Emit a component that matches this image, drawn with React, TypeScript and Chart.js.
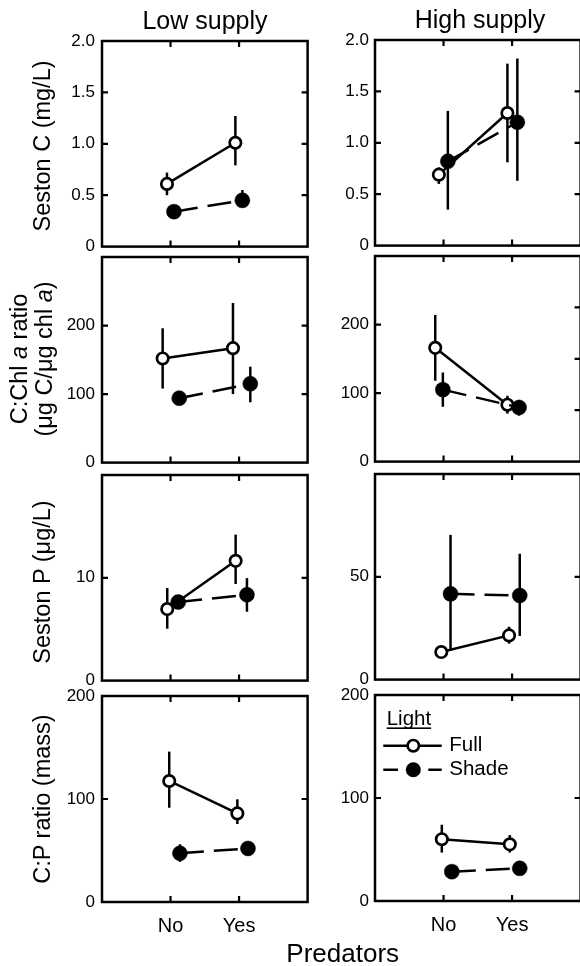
import React, { useEffect, useRef } from "react";
import { Chart, registerables } from "chart.js";

Chart.register(...registerables);

const FONT = '"Liberation Sans", Arial, Helvetica, sans-serif';

// ---------- categories / labels ----------
const predators = ["No", "Yes"];
const lightLevels = ["Full", "Shade"];
const legendTitle = "Light";
const supplyLevels = ["Low supply", "High supply"];
const xAxisTitle = "Predators";

// ---------- tick values / labels ----------
const sestonCTicks = [0, 0.5, 1, 1.5, 2];
const sestonCTickLabels = ["0", "0.5", "1.0", "1.5", "2.0"];
const cChlTicks = [0, 100, 200];
const cChlTickLabels = ["0", "100", "200"];
const cChlHighRightTicks = [75, 150, 225];
const sestonPLowTicks = [0, 10];
const sestonPLowTickLabels = ["0", "10"];
const sestonPHighTicks = [0, 50];
const sestonPHighTickLabels = ["0", "50"];
const cpTicks = [0, 100, 200];
const cpTickLabels = ["0", "100", "200"];

// ---------- Seston C (mg/L) ----------
const sestonCLowFull = [0.61, 1.01];
const sestonCLowFullErr = [[0.5, 0.72], [0.79, 1.27]];
const sestonCLowShade = [0.34, 0.45];
const sestonCLowShadeErr = [[0.3, 0.38], [0.38, 0.55]];
const sestonCHighFull = [0.69, 1.29];
const sestonCHighFullErr = [[0.6, 0.76], [0.81, 1.77]];
const sestonCHighShade = [0.82, 1.2];
const sestonCHighShadeErr = [[0.35, 1.31], [0.63, 1.82]];

// ---------- C:Chl a ratio ----------
const cChlLowFull = [152, 167];
const cChlLowFullErr = [[108, 196], [100, 233]];
const cChlLowShade = [94, 115];
const cChlLowShadeErr = [[88, 100], [88, 140]];
const cChlHighFull = [166, 83];
const cChlHighFullErr = [[118, 214], [70, 96]];
const cChlHighShade = [105, 79];
const cChlHighShadeErr = [[80, 130], [67, 90]];

// ---------- Seston P (ug/L) ----------
const sestonPLowFull = [6.96, 11.65];
const sestonPLowFullErr = [[5.05, 9.0], [9.4, 14.2]];
const sestonPLowShade = [7.64, 8.35];
const sestonPLowShadeErr = [[7.0, 8.3], [6.7, 9.97]];
const sestonPHighFull = [13.4, 21.5];
const sestonPHighFullErr = [[12, 15], [17.5, 25.7]];
const sestonPHighShade = [41.7, 40.9];
const sestonPHighShadeErr = [[14.2, 70.4], [21.2, 61.2]];

// ---------- C:P ratio (mass) ----------
const cpLowFull = [117.5, 86];
const cpLowFullErr = [[91.5, 146], [75.7, 99.7]];
const cpLowShade = [47.3, 52];
const cpLowShadeErr = [[39, 56], [48, 56]];
const cpHighFull = [60, 55];
const cpHighFullErr = [[47, 74], [47, 64]];
const cpHighShade = [28.5, 31.7];
const cpHighShadeErr = [[25, 32], [28, 35]];

// ---------- layout ----------
const LW = 52;
const PT = 10;
const PR = 8;
const PB = 8;
const XH = 46;
const PANEL_W = 206;
const PANEL_H = 206;
const colLeft = [102, 375];
const rowTop = [
  [41, 257, 475, 696],
  [40, 256, 474, 695],
];

type PanelCfg = {
  col: number;
  row: number;
  yMax: number;
  yTicks: number[];
  yLabels: string[];
  rightTicks?: number[];
  full: number[];
  fullErr: number[][];
  shade: number[];
  shadeErr: number[][];
  fullDodge: number[];
  shadeDodge: number[];
  legend?: boolean;
};

const panels: PanelCfg[] = [
  { col: 0, row: 0, yMax: 2, yTicks: sestonCTicks, yLabels: sestonCTickLabels,
    full: sestonCLowFull, fullErr: sestonCLowFullErr, shade: sestonCLowShade, shadeErr: sestonCLowShadeErr,
    fullDodge: [-0.052, -0.054], shadeDodge: [0.05, 0.048] },
  { col: 1, row: 0, yMax: 2, yTicks: sestonCTicks, yLabels: sestonCTickLabels,
    full: sestonCHighFull, fullErr: sestonCHighFullErr, shade: sestonCHighShade, shadeErr: sestonCHighShadeErr,
    fullDodge: [-0.068, -0.068], shadeDodge: [0.063, 0.077] },
  { col: 0, row: 1, yMax: 300, yTicks: cChlTicks, yLabels: cChlTickLabels,
    full: cChlLowFull, fullErr: cChlLowFullErr, shade: cChlLowShade, shadeErr: cChlLowShadeErr,
    fullDodge: [-0.115, -0.089], shadeDodge: [0.127, 0.164] },
  { col: 1, row: 1, yMax: 300, yTicks: cChlTicks, yLabels: cChlTickLabels, rightTicks: cChlHighRightTicks,
    full: cChlHighFull, fullErr: cChlHighFullErr, shade: cChlHighShade, shadeErr: cChlHighShadeErr,
    fullDodge: [-0.121, -0.068], shadeDodge: [-0.01, 0.102] },
  { col: 0, row: 2, yMax: 20, yTicks: sestonPLowTicks, yLabels: sestonPLowTickLabels,
    full: sestonPLowFull, fullErr: sestonPLowFullErr, shade: sestonPLowShade, shadeErr: sestonPLowShadeErr,
    fullDodge: [-0.048, -0.05], shadeDodge: [0.112, 0.115] },
  { col: 1, row: 2, yMax: 100, yTicks: sestonPHighTicks, yLabels: sestonPHighTickLabels,
    full: sestonPHighFull, fullErr: sestonPHighFullErr, shade: sestonPHighShade, shadeErr: sestonPHighShadeErr,
    fullDodge: [-0.033, -0.044], shadeDodge: [0.102, 0.112] },
  { col: 0, row: 3, yMax: 200, yTicks: cpTicks, yLabels: cpTickLabels,
    full: cpLowFull, fullErr: cpLowFullErr, shade: cpLowShade, shadeErr: cpLowShadeErr,
    fullDodge: [-0.019, -0.025], shadeDodge: [0.137, 0.13] },
  { col: 1, row: 3, yMax: 200, yTicks: cpTicks, yLabels: cpTickLabels,
    full: cpHighFull, fullErr: cpHighFullErr, shade: cpHighShade, shadeErr: cpHighShadeErr,
    fullDodge: [-0.025, -0.033], shadeDodge: [0.121, 0.112], legend: true },
];

const LINE_W = 2.5;
const DASH = [24, 10];
const OPEN_R = 5.7;
const OPEN_BW = 2.7;
const FILLED_R = 7.5;

function Panel({ cfg }: { cfg: PanelCfg }) {
  const ref = useRef<HTMLCanvasElement>(null);
  const showX = cfg.row === 3;
  const left = colLeft[cfg.col] - LW;
  const top = rowTop[cfg.col][cfg.row] - PT;
  const w = LW + PANEL_W + PR;
  const h = PT + PANEL_H + (showX ? XH : PB);

  useEffect(() => {
    const canvas = ref.current;
    if (!canvas) return;

    const decor = {
      id: "decor",
      beforeDatasetsDraw(chart: any) {
        const { ctx, scales } = chart;
        const x = scales.x;
        const y = scales.y;
        ctx.save();
        ctx.strokeStyle = "#000";
        ctx.lineWidth = 2.5;
        ctx.lineCap = "butt";
        const groups = [
          { vals: cfg.fullErr, dodge: cfg.fullDodge },
          { vals: cfg.shadeErr, dodge: cfg.shadeDodge },
        ];
        groups.forEach((g) => {
          g.vals.forEach(([lo, hi], i) => {
            const px = x.getPixelForValue(i + 1 + g.dodge[i]);
            ctx.beginPath();
            ctx.moveTo(px, y.getPixelForValue(lo));
            ctx.lineTo(px, y.getPixelForValue(hi));
            ctx.stroke();
          });
        });
        ctx.restore();
      },
      afterDraw(chart: any) {
        const { ctx, chartArea: a, scales } = chart;
        const x = scales.x;
        const y = scales.y;
        ctx.save();
        ctx.strokeStyle = "#000";
        ctx.lineWidth = 2.5;
        ctx.strokeRect(a.left, a.top, a.right - a.left, a.bottom - a.top);
        const TL = 6;
        ctx.lineWidth = 2.2;
        ctx.beginPath();
        cfg.yTicks.forEach((v) => {
          if (v <= 0 || v >= cfg.yMax) return;
          const py = y.getPixelForValue(v);
          ctx.moveTo(a.left, py);
          ctx.lineTo(a.left + TL, py);
        });
        (cfg.rightTicks || cfg.yTicks).forEach((v) => {
          if (v <= 0 || v >= cfg.yMax) return;
          const py = y.getPixelForValue(v);
          ctx.moveTo(a.right, py);
          ctx.lineTo(a.right - TL, py);
        });
        predators.forEach((_, i) => {
          const px = x.getPixelForValue(i + 1);
          ctx.moveTo(px, a.top);
          ctx.lineTo(px, a.top + TL);
          ctx.moveTo(px, a.bottom);
          ctx.lineTo(px, a.bottom - TL);
        });
        ctx.stroke();

        if (cfg.legend) {
          const L = a.left;
          const T = a.top;
          ctx.fillStyle = "#000";
          ctx.font = `20.5px ${FONT}`;
          ctx.textBaseline = "middle";
          ctx.textAlign = "left";
          ctx.fillText(legendTitle, L + 11.7, T + 24.3);
          const tw = ctx.measureText(legendTitle).width;
          ctx.fillRect(L + 11.7, T + 32.4, tw, 1.6);
          // Full
          const yF = T + 50.7;
          ctx.lineWidth = LINE_W;
          ctx.setLineDash([]);
          ctx.beginPath();
          ctx.moveTo(L + 8.3, yF);
          ctx.lineTo(L + 66.7, yF);
          ctx.stroke();
          ctx.beginPath();
          ctx.arc(L + 38.3, yF, OPEN_R, 0, Math.PI * 2);
          ctx.fillStyle = "#fff";
          ctx.fill();
          ctx.lineWidth = OPEN_BW;
          ctx.stroke();
          ctx.fillStyle = "#000";
          ctx.fillText(lightLevels[0], L + 74.3, yF);
          // Shade
          const yS = T + 74.7;
          ctx.lineWidth = LINE_W;
          ctx.beginPath();
          ctx.moveTo(L + 8.3, yS);
          ctx.lineTo(L + 23, yS);
          ctx.moveTo(L + 53.3, yS);
          ctx.lineTo(L + 66.7, yS);
          ctx.stroke();
          ctx.beginPath();
          ctx.arc(L + 38.3, yS, FILLED_R, 0, Math.PI * 2);
          ctx.fill();
          ctx.fillText(lightLevels[1], L + 74.3, yS);
        }
        ctx.restore();
      },
    };

    const zeroPad = (s: any) => {
      s.paddingTop = 0;
      s.paddingBottom = 0;
      s.paddingLeft = 0;
      s.paddingRight = 0;
    };

    const chart = new Chart(canvas, {
      type: "line",
      data: {
        datasets: [
          {
            label: lightLevels[1],
            data: cfg.shade.map((v, i) => ({ x: i + 1 + cfg.shadeDodge[i], y: v })),
            borderColor: "#000",
            backgroundColor: "#000",
            borderWidth: LINE_W,
            borderDash: DASH,
            pointRadius: FILLED_R,
            pointBorderWidth: 0.5,
            pointBackgroundColor: "#000",
            pointBorderColor: "#000",
            order: 0,
          },
          {
            label: lightLevels[0],
            data: cfg.full.map((v, i) => ({ x: i + 1 + cfg.fullDodge[i], y: v })),
            borderColor: "#000",
            backgroundColor: "#fff",
            borderWidth: LINE_W,
            pointRadius: OPEN_R,
            pointBorderWidth: OPEN_BW,
            pointBackgroundColor: "#fff",
            pointBorderColor: "#000",
            order: 1,
          },
        ],
      },
      options: {
        responsive: false,
        animation: false,
        devicePixelRatio: 1,
        events: [],
        layout: { padding: { left: 0, right: PR, top: PT, bottom: showX ? 0 : PB } },
        plugins: { legend: { display: false }, tooltip: { enabled: false } },
        scales: {
          x: {
            type: "linear",
            min: 0,
            max: 3,
            display: showX,
            afterFit: (s: any) => {
              if (showX) s.height = XH;
              zeroPad(s);
            },
            afterBuildTicks: (s: any) => {
              s.ticks = predators.map((_, i) => ({ value: i + 1 }));
            },
            grid: { display: false, drawTicks: false },
            border: { display: false },
            ticks: {
              callback: (v: any) => predators[Math.round(Number(v)) - 1] ?? "",
              font: { family: FONT, size: 20 },
              color: "#000",
              padding: 12,
              maxRotation: 0,
              autoSkip: false,
            },
          },
          y: {
            type: "linear",
            min: 0,
            max: cfg.yMax,
            afterFit: (s: any) => {
              s.width = LW;
              zeroPad(s);
            },
            afterBuildTicks: (s: any) => {
              s.ticks = cfg.yTicks.map((v) => ({ value: v }));
            },
            grid: { display: false, drawTicks: false },
            border: { display: false },
            ticks: {
              callback: (v: any) => {
                const idx = cfg.yTicks.indexOf(Number(v));
                return idx >= 0 ? cfg.yLabels[idx] : "";
              },
              font: { family: FONT, size: 17 },
              color: "#000",
              padding: cfg.col === 0 ? 7 : 6,
              autoSkip: false,
            },
          },
        },
      },
      plugins: [decor],
    });
    return () => chart.destroy();
  }, []);

  return (
    <canvas
      ref={ref}
      width={w}
      height={h}
      style={{ position: "absolute", left, top, width: w, height: h }}
    />
  );
}

const abs = (cx: number, cy: number, size: number, rotate = false): React.CSSProperties => ({
  position: "absolute",
  left: cx,
  top: cy,
  transform: `translate(-50%, -50%)${rotate ? " rotate(-90deg)" : ""}`,
  fontSize: size,
  lineHeight: `${size}px`,
  whiteSpace: "nowrap",
  color: "#000",
  textAlign: "center",
});

export default function App() {
  return (
    <div
      style={{
        position: "absolute",
        left: 0,
        top: 0,
        width: 580,
        height: 966,
        overflow: "hidden",
        background: "#fff",
        fontFamily: FONT,
      }}
    >
      {panels.map((p, i) => (
        <Panel key={i} cfg={p} />
      ))}
      <div style={abs(205, 19.5, 25)}>{supplyLevels[0]}</div>
      <div style={abs(480, 18.5, 25)}>{supplyLevels[1]}</div>
      <div style={abs(342.7, 952.5, 26)}>{xAxisTitle}</div>
      <div style={abs(42.5, 146, 23.5, true)}>Seston C (mg/L)</div>
      <div style={{ ...abs(31, 359, 23.5, true), lineHeight: "24.5px" }}>
        <div>
          C:Chl <i>a</i> ratio
        </div>
        <div>
          (μg C/μg chl <i>a</i>)
        </div>
      </div>
      <div style={abs(43, 582, 23.5, true)}>Seston P (μg/L)</div>
      <div style={abs(42.5, 799, 23.5, true)}>C:P ratio (mass)</div>
    </div>
  );
}
